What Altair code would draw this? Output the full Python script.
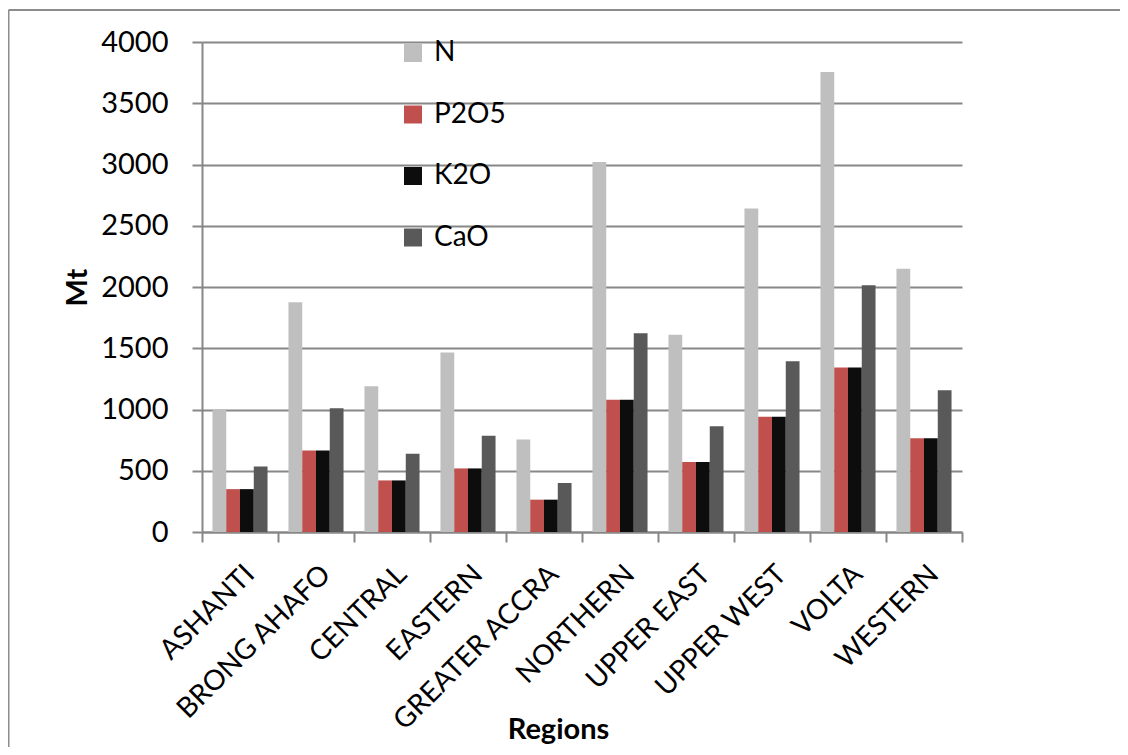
import altair as alt
import pandas as pd

regions = ["ASHANTI", "BRONG AHAFO", "CENTRAL", "EASTERN", "GREATER ACCRA",
           "NORTHERN", "UPPER EAST", "UPPER WEST", "VOLTA", "WESTERN"]
nutrients = ["N", "P2O5", "K2O", "CaO"]
N = [1000, 1875, 1190, 1465, 755, 3020, 1610, 2640, 3755, 2150]
P2O5 = [350, 666, 421, 519, 264, 1079, 571, 940, 1342, 766]
K2O = [350, 666, 421, 519, 264, 1079, 571, 940, 1342, 766]
CaO = [535, 1011, 639, 785, 400, 1622, 864, 1394, 2014, 1158]
colors = ["#BFBFBF", "#C0504D", "#0D0D0D", "#595959"]
y_ticks = [0, 500, 1000, 1500, 2000, 2500, 3000, 3500, 4000]

series = {"N": N, "P2O5": P2O5, "K2O": K2O, "CaO": CaO}
rows = []
for nut in nutrients:
    for r, v in zip(regions, series[nut]):
        rows.append({"Region": r, "Nutrient": nut, "Value": v})
df = pd.DataFrame(rows)

FONT = "Lato"
GRAY = "#878787"

bars = alt.Chart(df).mark_bar().encode(
    x=alt.X("Region:N", sort=regions,
            scale=alt.Scale(paddingInner=0, paddingOuter=0),
            axis=alt.Axis(title="Regions", labelAngle=-45, labelAlign="right",
                          labelBaseline="top", labelFontSize=28, labelPadding=18,
                          labelLimit=0,
                          labelColor="#000000", labelFont=FONT,
                          tickBand="extent", tickSize=10, tickColor=GRAY, tickWidth=2,
                          domainColor=GRAY, domainWidth=2,
                          titleFont=FONT, titleFontSize=29, titleFontWeight="bold",
                          titleColor="#000000", titleX=356, titleY=206,
                          titleBaseline="alphabetic", titleAlign="center")),
    xOffset=alt.XOffset("Nutrient:N", sort=nutrients,
                        scale=alt.Scale(paddingInner=0, paddingOuter=0.76)),
    y=alt.Y("Value:Q",
            scale=alt.Scale(domain=[0, 4000], nice=False),
            axis=alt.Axis(title="Mt", values=y_ticks, format="d", labelFontSize=29,
                          labelFont=FONT, labelColor="#000000", labelPadding=24,
                          tickSize=10, tickColor=GRAY, tickWidth=2,
                          domainColor=GRAY, domainWidth=2,
                          grid=True, gridColor=GRAY, gridWidth=2,
                          titleFont=FONT, titleFontSize=29, titleFontWeight="bold",
                          titleColor="#000000", titleAngle=270, titleX=-125,
                          titleY=245, titleBaseline="middle", titleAlign="center")),
    color=alt.Color("Nutrient:N", sort=nutrients,
                    scale=alt.Scale(domain=nutrients, range=colors),
                    legend=alt.Legend(title=None, orient="none", legendX=197,
                                      legendY=-3, symbolType="square",
                                      symbolSize=324, symbolStrokeWidth=0,
                                      labelFontSize=28, labelFont=FONT,
                                      labelColor="#000000", labelOffset=7,
                                      rowPadding=33.5, padding=0)),
)

border_df = pd.DataFrame({"a": [0]})
left_edge = alt.Chart(border_df).mark_rule(
    color="#8C8C8C", strokeWidth=2, clip=False
).encode(x=alt.value(-193.5), y=alt.value(-32), y2=alt.value(720))
top_edge = alt.Chart(border_df).mark_rule(
    color="#8C8C8C", strokeWidth=2, clip=False
).encode(y=alt.value(-32), x=alt.value(-193.5), x2=alt.value(930))

chart = alt.layer(bars, left_edge, top_edge).properties(
    width=760, height=490,
    autosize=alt.AutoSizeParams(type="none"),
    padding={"left": 194, "top": 34, "right": 158, "bottom": 215},
    background="#FFFFFF",
).configure_view(strokeWidth=0)

chart.save("out.html", embed_options={"renderer": "svg", "actions": False})
